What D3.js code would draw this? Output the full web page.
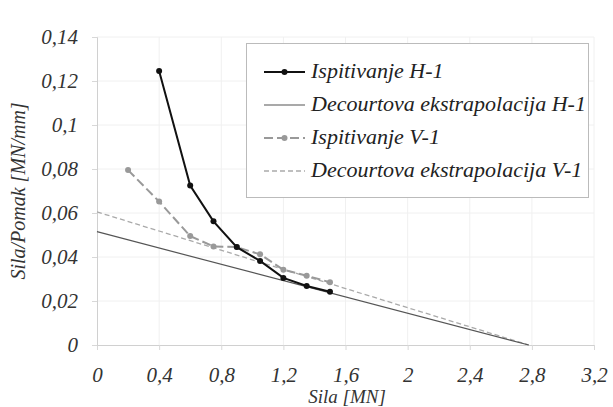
<!DOCTYPE html>
<html>
<head>
<meta charset="utf-8">
<script src="https://cdn.jsdelivr.net/npm/d3@7"></script>
<style>
  body { margin: 0; background: #fff; }
  text { font-family: "Liberation Serif", "Times New Roman", serif; font-style: italic; fill: #333; }
</style>
</head>
<body>
<div id="chart"></div>
<script>
// values
var silaH = [0.4, 0.6, 0.75, 0.9, 1.05, 1.2, 1.35, 1.5];
var ispitivanjeH = [0.1245, 0.0725, 0.0562, 0.0445, 0.0382, 0.0305, 0.0268, 0.0242];
var silaV = [0.2, 0.4, 0.6, 0.75, 0.9, 1.05, 1.2, 1.35, 1.5];
var ispitivanjeV = [0.0795, 0.0652, 0.0495, 0.0448, 0.0445, 0.0412, 0.0342, 0.0315, 0.0285];
var decourtH = [[0, 0.0515], [2.78, 0]];
var decourtV = [[0, 0.0605], [2.78, 0]];
var xTicks = [0, 0.4, 0.8, 1.2, 1.6, 2, 2.4, 2.8, 3.2];
var yTicks = [0, 0.02, 0.04, 0.06, 0.08, 0.1, 0.12, 0.14];
var legendLabels = ["Ispitivanje H-1", "Decourtova ekstrapolacija H-1", "Ispitivanje V-1", "Decourtova ekstrapolacija V-1"];

var W = 613, H = 407;
var margin = {top: 37, right: 19, bottom: 62, left: 97};
var width = W - margin.left - margin.right,
    height = H - margin.top - margin.bottom;

var fmt = function(v) { return String(v).replace(".", ","); };

var svg = d3.select("#chart").append("svg")
    .attr("width", W).attr("height", H);
var g = svg.append("g")
    .attr("transform", "translate(" + margin.left + "," + margin.top + ")");

var x = d3.scaleLinear().domain([0, 3.2]).range([0, width]);
var y = d3.scaleLinear().domain([0, 0.14]).range([height, 0]);

// faint grid
g.selectAll(".gx").data(xTicks.slice(1)).enter().append("line")
    .attr("x1", d => x(d)).attr("x2", d => x(d))
    .attr("y1", 0).attr("y2", height)
    .style("stroke", "#f0f0f0");
g.selectAll(".gy").data(yTicks.slice(1)).enter().append("line")
    .attr("x1", 0).attr("x2", width)
    .attr("y1", d => y(d)).attr("y2", d => y(d))
    .style("stroke", "#f0f0f0");

// axes
var xAxis = g.append("g").attr("transform", "translate(0," + height + ")")
    .call(d3.axisBottom(x).tickValues(xTicks).tickFormat(fmt).tickSize(5).tickPadding(17));
var yAxis = g.append("g")
    .call(d3.axisLeft(y).tickValues(yTicks).tickFormat(fmt).tickSize(5).tickPadding(14));
[xAxis, yAxis].forEach(function(a) {
    a.select(".domain").style("stroke", "#d0d0d0");
    a.selectAll(".tick line").style("stroke", "#d8d8d8");
    a.selectAll("text").style("font-size", "21px").style("fill", "#333")
        .style("font-family", "Liberation Serif").style("font-style", "italic");
});
xAxis.select(".domain").attr("d", "M-5,0.5H" + width);

// series
var line = d3.line().x(d => x(d[0])).y(d => y(d[1]));
var ptsH = silaH.map((s, i) => [s, ispitivanjeH[i]]);
var ptsV = silaV.map((s, i) => [s, ispitivanjeV[i]]);

g.append("path").datum(decourtV).attr("d", line)
    .style("fill", "none").style("stroke", "#aaa").style("stroke-width", 1.3)
    .style("stroke-dasharray", "5,3");
g.append("path").datum(decourtH).attr("d", line)
    .style("fill", "none").style("stroke", "#555").style("stroke-width", 1.2);

g.append("path").datum(ptsV).attr("d", line)
    .style("fill", "none").style("stroke", "#999").style("stroke-width", 2)
    .style("stroke-dasharray", "9,4");
g.selectAll(".pv").data(ptsV).enter().append("circle")
    .attr("cx", d => x(d[0])).attr("cy", d => y(d[1])).attr("r", 3)
    .style("fill", "#999");

g.append("path").datum(ptsH).attr("d", line)
    .style("fill", "none").style("stroke", "#111").style("stroke-width", 2);
g.selectAll(".ph").data(ptsH).enter().append("circle")
    .attr("cx", d => x(d[0])).attr("cy", d => y(d[1])).attr("r", 3)
    .style("fill", "#111");

// axis titles
svg.append("text")
    .attr("x", 347).attr("y", 403)
    .attr("text-anchor", "middle").style("font-size", "19px")
    .text("Sila [MN]");
svg.append("text")
    .attr("transform", "translate(25," + (margin.top + height / 2) + ") rotate(-90)")
    .attr("text-anchor", "middle").style("font-size", "20px")
    .text("Sila/Pomak [MN/mm]");

// legend
var lg = svg.append("g");
lg.append("rect").attr("x", 246.5).attr("y", 43.5).attr("width", 342).attr("height", 154)
    .style("fill", "#fff").style("stroke", "#bbb");
var styles = [
    {stroke: "#111", w: 2, dash: null, dot: "#111"},
    {stroke: "#555", w: 1.2, dash: null, dot: null},
    {stroke: "#999", w: 2, dash: "9,4", dot: "#999"},
    {stroke: "#aaa", w: 1.3, dash: "5,3", dot: null}
];
legendLabels.forEach(function(lab, i) {
    var yy = 72 + i * 33;
    var st = styles[i];
    lg.append("line").attr("x1", 264).attr("x2", 305).attr("y1", yy).attr("y2", yy)
        .style("stroke", st.stroke).style("stroke-width", st.w)
        .style("stroke-dasharray", st.dash);
    if (st.dot) lg.append("circle").attr("cx", 284.5).attr("cy", yy).attr("r", 3).style("fill", st.dot);
    lg.append("text").attr("x", 311).attr("y", yy + 6)
        .style("font-size", "22px").style("fill", "#222").text(lab);
});
</script>
</body>
</html>
